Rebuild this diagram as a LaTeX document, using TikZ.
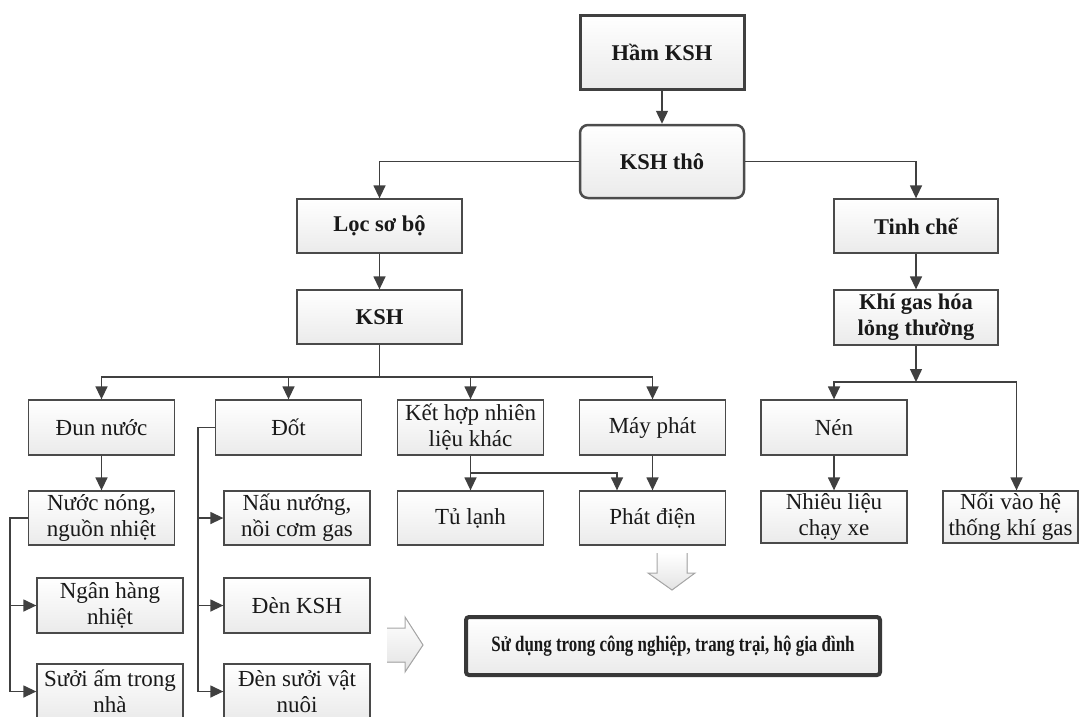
\documentclass[tikz,border=0pt]{standalone}
\usepackage{fontspec}
\setmainfont{Liberation Serif}
\newfontfamily\narrowserif{Liberation Serif}[FakeStretch=0.77]
\usetikzlibrary{arrows.meta}
\definecolor{boxline}{HTML}{4A4A4A}
\definecolor{arrline}{HTML}{404040}

\tikzset{
  box/.style={draw=boxline, line width=1.3pt, top color=white, bottom color=gray!16,
    minimum width=146pt, minimum height=55pt, align=center, inner sep=2pt,
    text=black!90, font=\fontsize{23}{26}\selectfont},
  topbox/.style={box, minimum width=164pt, font=\fontsize{22.5}{26}\selectfont\bfseries},
  arr/.style={draw=arrline, line width=1.4pt, -{Triangle[length=13pt,width=12pt]}},
  line/.style={draw=arrline, line width=1.4pt},
  hollow/.style={draw=gray!70, line width=1pt, top color=white, bottom color=gray!22}
}

\begin{document}
\begin{tikzpicture}[x=1pt,y=-1pt]
\useasboundingbox (0,0) rectangle (1081,716);

% top chain
\node[topbox, line width=3pt, draw=black!75, minimum height=74pt] (ham) at (662,52) {Hầm KSH};
\node[topbox, line width=2.5pt, draw=black!70, rounded corners=8pt, minimum height=73pt] (tho) at (662,161.5) {KSH thô};

\node[topbox, minimum width=165pt, minimum height=54pt] (loc) at (379.5,226) {Lọc sơ bộ};
\node[topbox, minimum width=165pt, minimum height=54pt] (ksh) at (379.5,317) {KSH};
\node[topbox, minimum height=54pt] (tinh) at (916,226) {Tinh chế};
\node[topbox, minimum height=55pt] (khi) at (916,317.5) {Khí gas hóa\\lỏng thường};

% row 1
\node[box] (dun) at (101.5,427.5) {Đun nước};
\node[box] (dot) at (288.5,427.5) {Đốt};
\node[box] (kethop) at (470.5,427.5) {Kết hợp nhiên\\liệu khác};
\node[box] (may) at (652.5,427.5) {Máy phát};
\node[box] (nen) at (834,427.5) {Nén};

% row 2
\node[box, minimum height=54pt] (nuoc) at (101.5,518) {Nước nóng,\\nguồn nhiệt};
\node[box, minimum height=54pt] (nau) at (297,518) {Nấu nướng,\\nồi cơm gas};
\node[box, minimum height=54pt] (tulanh) at (470.5,518) {Tủ lạnh};
\node[box, minimum height=54pt] (phat) at (652.5,518) {Phát điện};
\node[box, minimum height=52pt] (nhieu) at (834,517) {Nhiêu liệu\\chạy xe};
\node[box, minimum width=135pt, minimum height=52pt] (noi) at (1010.5,517) {Nối vào hệ\\thống khí gas};

% row 3 and 4
\node[box] (nganhang) at (110,605.5) {Ngân hàng\\nhiệt};
\node[box] (den) at (297,605.5) {Đèn KSH};
\node[box] (suoi) at (110,691.5) {Sưởi ấm trong\\nhà};
\node[box] (densuoi) at (297,691.5) {Đèn sưởi vật\\nuôi};

% result
\node[box, line width=4pt, draw=black!78, rounded corners=3pt, minimum width=414pt,
  minimum height=58pt, font=\fontsize{22}{26}\narrowserif\bfseries] (sudung) at (673,646)
  {Sử dụng trong công nghiệp, trang trại, hộ gia đình};

% connectors
\draw[arr] (ham) -- (tho);
\draw[arr] (tho.west) -| (loc.north);
\draw[arr] (tho.east) -| (tinh.north);
\draw[arr] (loc) -- (ksh);
\draw[arr] (tinh) -- (khi);

\coordinate (kbus) at (379.5,377);
\draw[line] (ksh.south) -- (kbus);
\draw[arr] (kbus) -| (dun.north);
\draw[arr] (kbus) -| (dot.north);
\draw[arr] (kbus) -| (kethop.north);
\draw[arr] (kbus) -| (may.north);

\draw[arr] (dun) -- (nuoc);
\coordinate (lrail) at (10,0);
\draw[line] (nuoc.west) -| (lrail |- suoi.west);
\draw[arr] (lrail |- nganhang.west) -- (nganhang.west);
\draw[arr] (lrail |- suoi.west) -- (suoi.west);

\coordinate (drail) at (198,0);
\draw[line] (dot.west) -| (drail |- densuoi.west);
\draw[arr] (drail |- nau.west) -- (nau.west);
\draw[arr] (drail |- den.west) -- (den.west);
\draw[arr] (drail |- densuoi.west) -- (densuoi.west);

\draw[arr] (kethop) -- (tulanh);
\draw[arr] (470.5,473) -| ([xshift=-35.5pt]phat.north);
\draw[arr] (may) -- (phat);

\coordinate (rbus) at (916,382);
\draw[arr] (khi.south) -- (rbus);
\draw[arr] (rbus) -| (nen.north);
\draw[arr] (rbus) -| ([xshift=6pt]noi.north);
\draw[arr] (nen) -- (nhieu);

% hollow arrows
\fill[hollow, draw=none] (657,553) -- (657,573) -- (648,573) -- (672,590) -- (695,573) -- (687,573) -- (687,553) -- cycle;
\draw[hollow, fill=none] (657,553) -- (657,573) -- (648,573) -- (672,590) -- (695,573) -- (687,573) -- (687,553);
\fill[hollow, draw=none, left color=white, right color=gray!22] (387,628) -- (405,628) -- (405,617) -- (423,645) -- (405,672) -- (405,662) -- (387,662) -- cycle;
\draw[hollow, fill=none] (387,628) -- (405,628) -- (405,617) -- (423,645) -- (405,672) -- (405,662) -- (387,662);

\end{tikzpicture}
\end{document}
